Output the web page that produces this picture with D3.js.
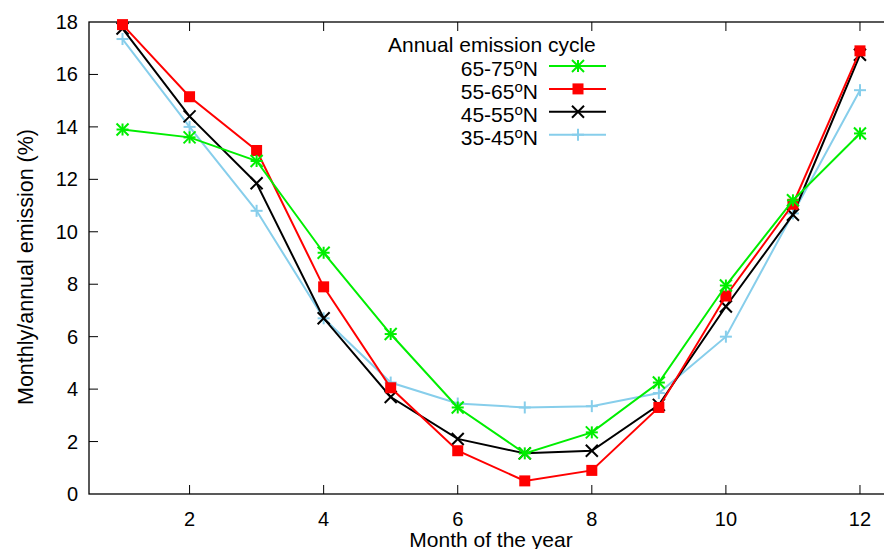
<!DOCTYPE html>
<html>
<head>
<meta charset="utf-8">
<script src="https://cdn.jsdelivr.net/npm/d3@7/dist/d3.min.js"></script>
<style>
  body { margin: 0; background: #fff; }
  svg { font-family: "Liberation Sans", Arial, sans-serif; }
</style>
</head>
<body>
<svg id="chart" width="884" height="549"></svg>
<script>
const months = [1, 2, 3, 4, 5, 6, 7, 8, 9, 10, 11, 12];
const lat6575 = [13.9, 13.6, 12.7, 9.2, 6.1, 3.3, 1.55, 2.35, 4.25, 7.95, 11.2, 13.75];
const lat5565 = [17.9, 15.15, 13.1, 7.9, 4.05, 1.65, 0.5, 0.9, 3.3, 7.55, 11.05, 16.9];
const lat4555 = [17.75, 14.4, 11.85, 6.7, 3.7, 2.1, 1.55, 1.65, 3.4, 7.15, 10.65, 16.75];
const lat3545 = [17.35, 14.0, 10.8, 6.7, 4.25, 3.45, 3.3, 3.35, 3.85, 6.0, 10.7, 15.4];
const seriesNames = ["65-75", "55-65", "45-55", "35-45"];
const xTicks = [2, 4, 6, 8, 10, 12];
const yTicks = [0, 2, 4, 6, 8, 10, 12, 14, 16, 18];

const series = [
	{ name: seriesNames[0], values: lat6575, color: "#00ee00", marker: "star" },
	{ name: seriesNames[1], values: lat5565, color: "#ff0000", marker: "square" },
	{ name: seriesNames[2], values: lat4555, color: "#000000", marker: "cross" },
	{ name: seriesNames[3], values: lat3545, color: "#87ceeb", marker: "plus" }
];

const svg = d3.select("#chart");
const margin = { left: 89, top: 22, right: 893.5, bottom: 494 };

const x = d3.scaleLinear().domain([0.5, 12.5]).range([margin.left, margin.right]);
const y = d3.scaleLinear().domain([0, 18]).range([margin.bottom, margin.top]);

// frame
svg.append("rect")
	.attr("x", margin.left).attr("y", margin.top)
	.attr("width", margin.right - margin.left)
	.attr("height", margin.bottom - margin.top)
	.attr("fill", "none").attr("stroke", "#000").attr("stroke-width", 1.3);

// inward ticks, gnuplot style
const tickLen = 9;
const ticks = svg.append("g").attr("stroke", "#000").attr("stroke-width", 1);
xTicks.forEach(t => {
	ticks.append("line").attr("x1", x(t)).attr("x2", x(t)).attr("y1", margin.bottom).attr("y2", margin.bottom - tickLen);
	ticks.append("line").attr("x1", x(t)).attr("x2", x(t)).attr("y1", margin.top).attr("y2", margin.top + tickLen);
});
yTicks.slice(1, -1).forEach(t => {
	ticks.append("line").attr("x1", margin.left).attr("x2", margin.left + tickLen).attr("y1", y(t)).attr("y2", y(t));
});

svg.append("g").selectAll("text").data(xTicks).enter().append("text")
	.attr("x", d => x(d)).attr("y", 526)
	.attr("text-anchor", "middle").attr("font-size", 20)
	.text(d => d);

svg.append("g").selectAll("text").data(yTicks).enter().append("text")
	.attr("x", 78).attr("y", d => y(d) + 7)
	.attr("text-anchor", "end").attr("font-size", 20)
	.text(d => d);

svg.append("text")
	.attr("x", 491).attr("y", 547)
	.attr("text-anchor", "middle").attr("font-size", 21)
	.text("Month of the year");

svg.append("text")
	.attr("transform", "translate(33,267) rotate(-90)")
	.attr("text-anchor", "middle").attr("font-size", 21.5)
	.text("Monthly/annual emission (%)");

function drawMarker(g, type, cx, cy, color) {
	const s = 6;
	if (type === "square") {
		g.append("rect").attr("x", cx - 5.5).attr("y", cy - 5.5).attr("width", 11).attr("height", 11).attr("fill", color);
		return;
	}
	let segs = [];
	if (type === "plus" || type === "star") segs.push([-s, 0, s, 0], [0, -s, 0, s]);
	if (type === "cross" || type === "star") segs.push([-s, -s, s, s], [-s, s, s, -s]);
	segs.forEach(p => {
		g.append("line")
			.attr("x1", cx + p[0]).attr("y1", cy + p[1])
			.attr("x2", cx + p[2]).attr("y2", cy + p[3])
			.attr("stroke", color).attr("stroke-width", 2);
	});
}

const line = d3.line()
	.x((d, i) => x(months[i]))
	.y(d => y(d));

// draw back-to-front so green ends up on top like the original
const plot = svg.append("g");
series.slice().reverse().forEach(s => {
	plot.append("path")
		.datum(s.values)
		.attr("d", line)
		.attr("fill", "none")
		.attr("stroke", s.color)
		.attr("stroke-width", 2);
	const mg = plot.append("g");
	s.values.forEach((v, i) => drawMarker(mg, s.marker, x(months[i]), y(v), s.color));
});

// legend
const legend = svg.append("g");
legend.append("text")
	.attr("x", 388).attr("y", 52)
	.attr("font-size", 21)
	.text("Annual emission cycle");

series.forEach((s, i) => {
	const ly = 66 + i * 22.9;
	const t = legend.append("text")
		.attr("x", 538).attr("y", ly + 10)
		.attr("text-anchor", "end").attr("font-size", 21);
	t.append("tspan").text(s.name);
	t.append("tspan").attr("font-size", 15).attr("dy", -7).text("o");
	t.append("tspan").attr("dy", 7).text("N");
	legend.append("line")
		.attr("x1", 549).attr("x2", 606).attr("y1", ly).attr("y2", ly)
		.attr("stroke", s.color).attr("stroke-width", 2);
	drawMarker(legend, s.marker, 578, ly, s.color);
});
</script>
</body>
</html>
